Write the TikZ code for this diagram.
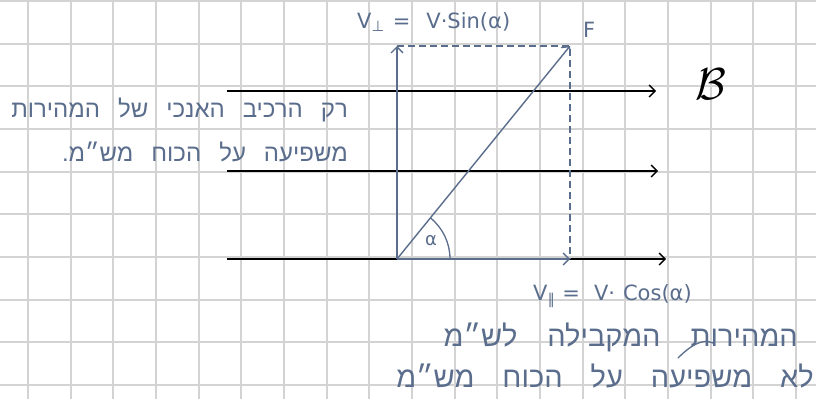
\documentclass[tikz,border=0pt]{standalone}
\usepackage{fontspec}
\usepackage{graphicx}
\usepackage{xcolor}
\usepackage{tikz}
\usetikzlibrary{arrows.meta}
\setmainfont{DejaVu Sans}
\newfontfamily\hebfont[Script=Hebrew]{Liberation Sans}
\TeXXeTstate=1
\definecolor{inkblue}{HTML}{5A6D8C}
\definecolor{gridgray}{HTML}{D3D3D3}

\tikzset{
  gridline/.style={gridgray, line width=2pt},
  fieldline/.style={black, line width=1.6pt, -{Straight Barb[length=6pt,width=12pt,line width=1.4pt]}},
  vecline/.style={inkblue, line width=1.4pt, -{Straight Barb[length=6pt,width=12pt,line width=1.3pt]}},
  helpline/.style={inkblue, line width=1.2pt, dash pattern=on 7pt off 4pt},
  hebsmall/.style={inkblue, inner sep=0pt, font=\hebfont\fontsize{24}{26}\selectfont},
  hebbig/.style={inkblue, inner sep=0pt, font=\hebfont\fontsize{29}{32}\selectfont},
  veclabel/.style={inkblue, inner sep=0pt, font=\fontsize{21}{24}\selectfont},
}

\begin{document}
\begin{tikzpicture}[x=1pt,y=-1pt]
        \useasboundingbox (0,0) rectangle (816,399);
        \fill[white] (0,0) rectangle (816,399);

        % Grid paper
        \foreach \i in {0,...,18}
          \draw[gridline] ({28+42.67*\i},0) -- ({28+42.67*\i},399);
        \foreach \j in {0,...,9}
          \draw[gridline] (0,{1+42.67*\j}) -- (816,{1+42.67*\j});

        % Field lines
        \coordinate (fieldAw) at (227,91);
        \coordinate (fieldAe) at (656,91);
        \coordinate (fieldBw) at (227,171);
        \coordinate (fieldBe) at (658,171);
        \coordinate (fieldCw) at (227,259);
        \coordinate (fieldCe) at (666,259);
        \draw[fieldline] (fieldAw) -- (fieldAe);
        \draw[fieldline] (fieldBw) -- (fieldBe);
        \draw[fieldline] (fieldCw) -- (fieldCe);
        \node[anchor=base west, inner sep=0pt, font=\fontsize{24.88}{26}\selectfont] (bfield) at (695,99) {\scalebox{1.8}{$\mathcal{B}$}};

        % Velocity and its components
        \coordinate (origin) at (397,259);
        \coordinate (vperp) at (397,46);
        \coordinate (vtip) at (570,46);
        \coordinate (vpar) at (570,259);
        \draw[helpline] (vperp) -- (vtip) -- (vpar);
        \draw[vecline] (origin) -- (vperp);
        \draw[vecline] (origin) -- (vtip);
        \draw[vecline] (origin) -- (vpar);
        \draw[inkblue, line width=1.3pt] ([xshift=53pt]origin) arc[start angle=0, end angle=51, radius=53pt];
        \node[inkblue, inner sep=0pt, font=\fontsize{18}{18}\selectfont] (alpha) at (431,241) {α};

        % Labels
        \node[veclabel, anchor=base west] (perplabel) at (357,28) {V\textsubscript{⊥}\hspace{8pt}=\hspace{16pt}V·Sin(α)};
        \node[veclabel, anchor=base west] (flabel) at (583,37) {F};
        \node[veclabel, anchor=base west] (parlabel) at (533,300) {V\textsubscript{∥}\hspace{7pt}=\hspace{14pt}V·\hspace{8pt}Cos(α)};

        % Notes
        \node[hebsmall, anchor=base east] (noteA) at (348,117) {\spaceskip=18pt\beginR רק הרכיב האנכי של המהירות\endR};
        \node[hebsmall, anchor=base east] (noteB) at (348,161) {\spaceskip=18pt\beginR משפיעה על הכוח מש״מ.\endR};
        \node[hebbig, anchor=base east] (noteC) at (798,346) {\spaceskip=30pt\beginR המהירות המקבילה לש״מ\endR};
        \node[hebbig, anchor=base east] (noteD) at (814,387) {\spaceskip=28pt\beginR לא משפיעה על הכוח מש״מ\endR};
        \draw[inkblue, line width=1.3pt, line cap=round] (678,358) .. controls (690,346) and (702,338) .. (713,343);
    \end{tikzpicture}
\end{document}
